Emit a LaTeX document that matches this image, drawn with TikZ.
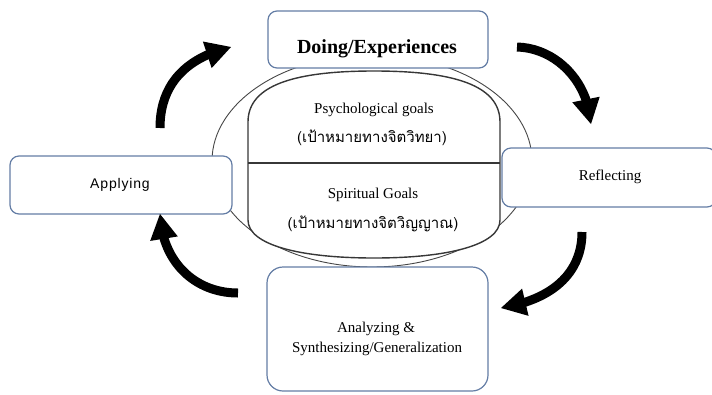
\documentclass[tikz,border=0pt]{standalone}
\usepackage{fontspec}
\setmainfont{Liberation Serif}
\newfontfamily\thaifont[Script=Thai]{Loma}
\newfontfamily\applyfont[LetterSpace=6]{Liberation Sans}
\usetikzlibrary{arrows.meta,bending}
\definecolor{boxblue}{RGB}{100,125,165}
\definecolor{ellgray}{RGB}{70,70,70}
\definecolor{innergray}{RGB}{55,55,55}
\begin{document}
\begin{tikzpicture}[x=1pt,y=-1pt,
  box/.style={draw=boxblue, line width=1.2pt, fill=white, rounded corners=9pt, inner sep=0pt},
  lbl/.style={anchor=base, inner sep=0pt, font=\fontsize{15}{18}\selectfont},
  thai/.style={anchor=center, inner sep=0pt, font=\thaifont\fontsize{15}{18}\selectfont},
  ell/.style={draw=ellgray, line width=0.9pt},
  inner/.style={draw=innergray, line width=1.4pt},
  bigarrow/.style={line width=9pt, -{Triangle[length=25pt,width=28pt,line width=0pt]}}
]
\useasboundingbox (0,0) rectangle (712,394);
% outer ellipse
\draw[ell] (372,161) ellipse [x radius=160, y radius=106];
% inner shape
\draw[inner, fill=white] (248,122) .. controls (248,85) and (295,71) .. (374,71)
  .. controls (453,71) and (500,85) .. (500,122)
  -- (500,220) .. controls (500,245) and (448,258) .. (374,258)
  .. controls (300,258) and (248,245) .. (248,220) -- cycle;
\coordinate (divl) at (248,163);
\coordinate (divr) at (500,163);
\draw[inner] (divl) -- (divr);
% inner texts
\node[lbl] (psy) at (374,113) {Psychological goals};
\node[thai] (psyth) at (372,138) {(เป้าหมายทางจิตวิทยา)};
\node[lbl] (spi) at (373,198) {Spiritual Goals};
\node[thai] (spith) at (373,224) {(เป้าหมายทางจิตวิญญาณ)};
% boxes
\node[box, minimum width=220pt, minimum height=57pt] (doing) at (378,39.5) {};
\node[box, minimum width=222pt, minimum height=58pt] (apply) at (121,185) {};
\node[box, minimum width=214pt, minimum height=59pt] (refl) at (609,177.5) {};
\node[box, rounded corners=16pt, minimum width=221pt, minimum height=124pt] (anal) at (377.5,329) {};
% box texts
\node[anchor=base, inner sep=0pt, font=\bfseries\fontsize{20}{24}\selectfont] (doingt) at (377,53) {Doing/Experiences};
\node[anchor=base, inner sep=0pt, font=\applyfont\fontsize{14}{17}\selectfont] (applyt) at (120,188) {Applying};
\node[lbl] (reflt) at (610,180) {Reflecting};
\node[lbl] (analt1) at (376,332) {Analyzing \&};
\node[lbl] (analt2) at (377,352) {Synthesizing/Generalization};
% arrows
\coordinate (a1s) at (160,128);
\coordinate (a1e) at (231,47);
\coordinate (a2s) at (517,47);
\coordinate (a2e) at (591,124);
\coordinate (a3s) at (582,232);
\coordinate (a3e) at (501,308);
\coordinate (a4s) at (238,293);
\coordinate (a4e) at (160,214);
\draw[bigarrow] (a1s) .. controls (160,85) and (185,58) .. (a1e);
\draw[bigarrow] (a2s) .. controls (555,48) and (588,80) .. (a2e);
\draw[bigarrow] (a3s) .. controls (582,275) and (550,300) .. (a3e);
\draw[bigarrow] (a4s) .. controls (195,293) and (162,262) .. (a4e);
\end{tikzpicture}
\end{document}
